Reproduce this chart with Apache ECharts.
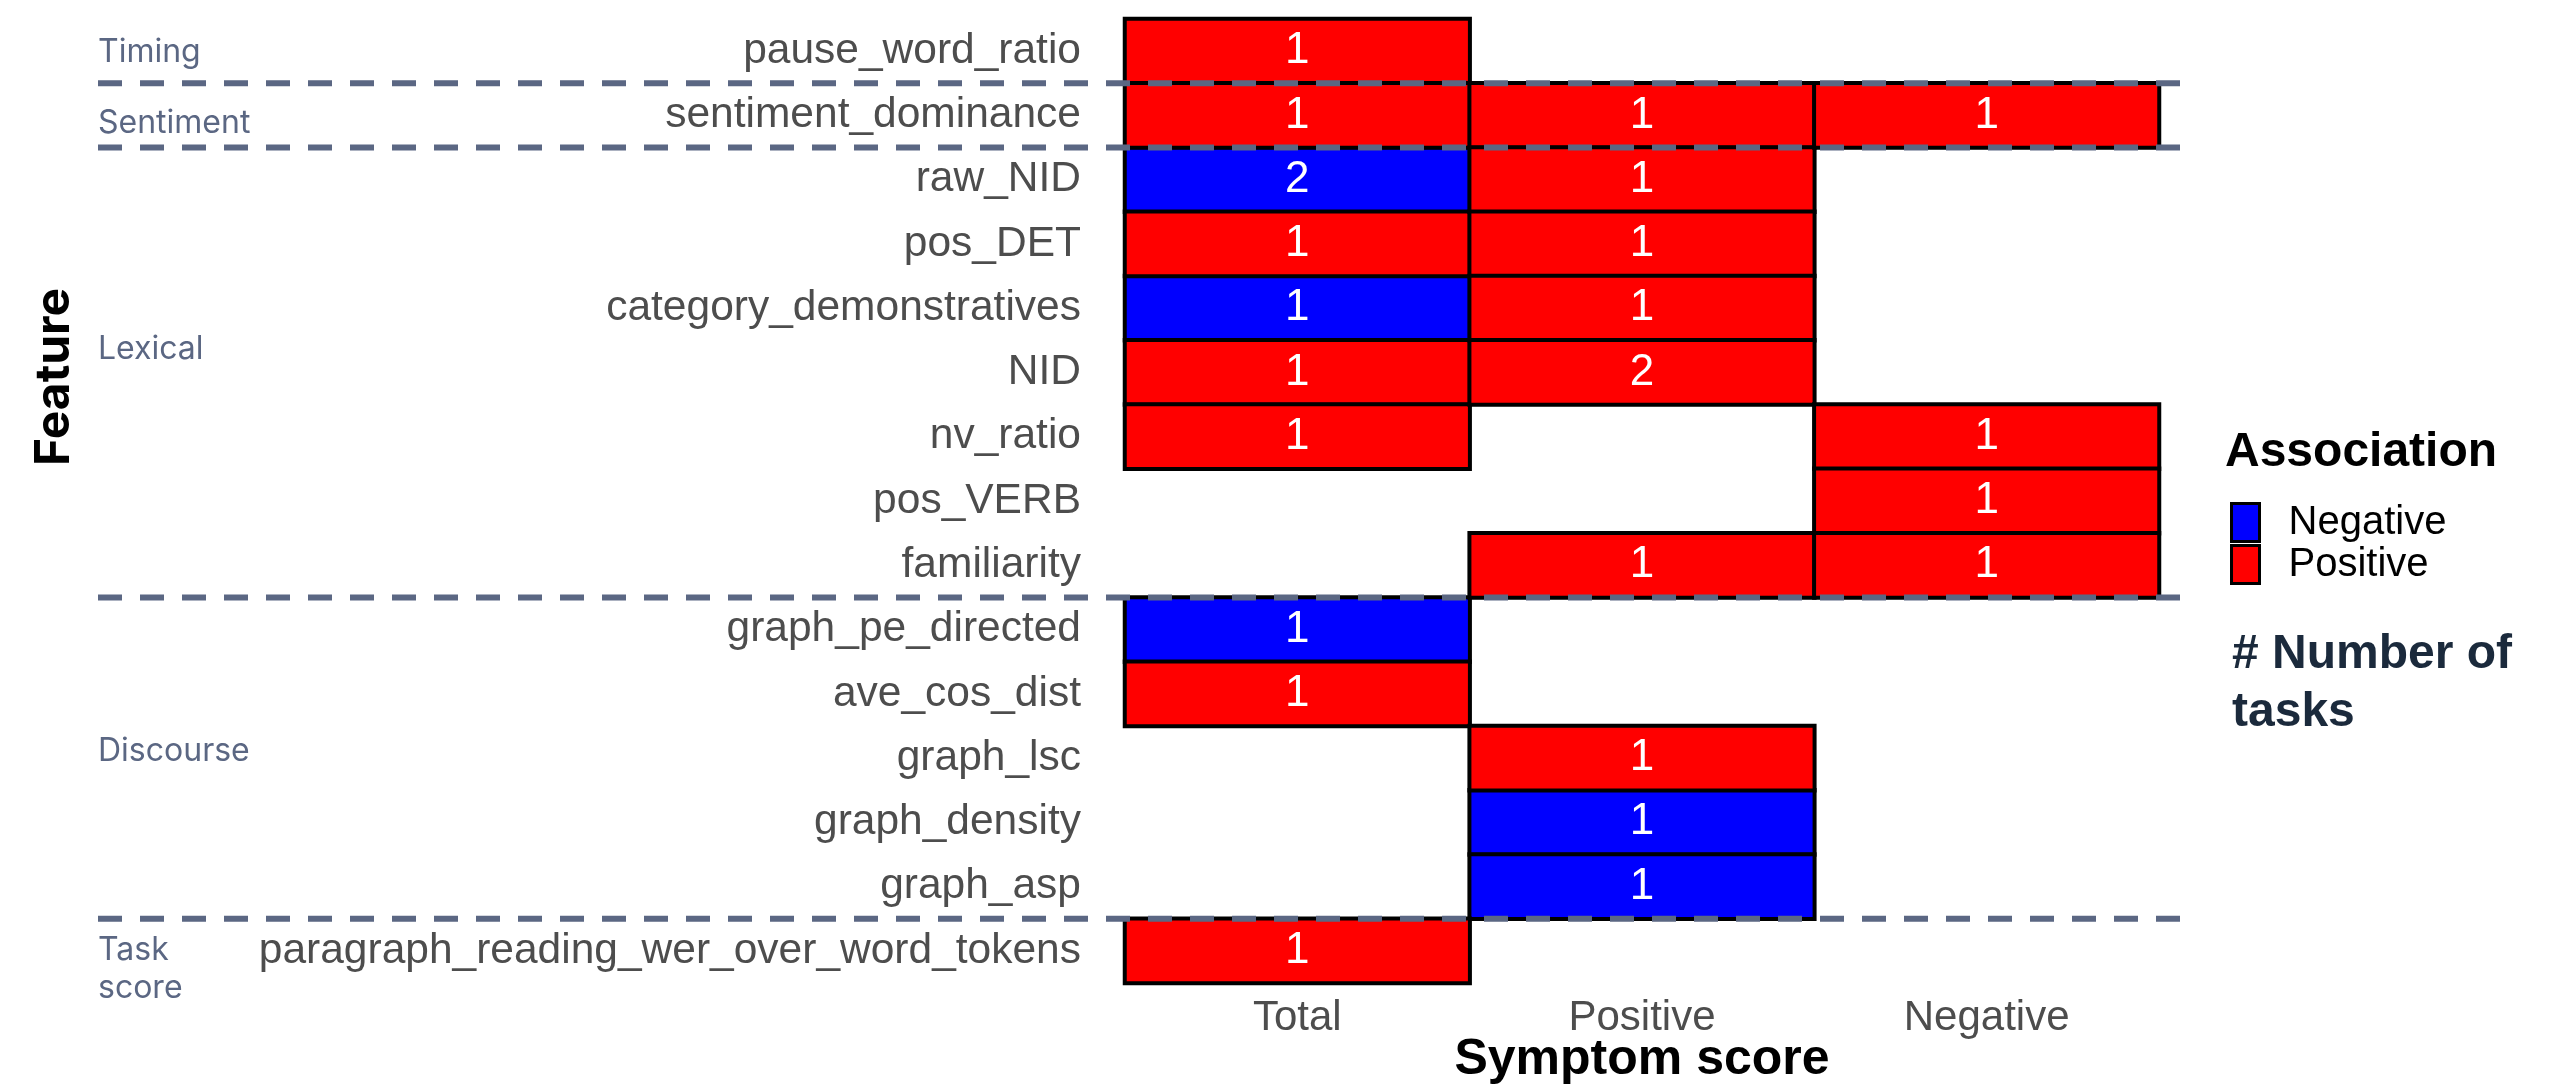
<!DOCTYPE html>
<html>
<head>
<meta charset="utf-8">
<script src="https://cdn.jsdelivr.net/npm/echarts@6/dist/echarts.min.js"></script>
<style>
  html, body { margin: 0; padding: 0; background: #fff; }
  #main { width: 2566px; height: 1091px; }
</style>
</head>
<body>
<div id="main"></div>
<script>
var myChart = echarts.init(document.getElementById('main'));

// features, top to bottom
var features = [
    'pause_word_ratio', 'sentiment_dominance', 'raw_NID', 'pos_DET',
    'category_demonstratives', 'NID', 'nv_ratio', 'pos_VERB', 'familiarity',
    'graph_pe_directed', 'ave_cos_dist', 'graph_lsc', 'graph_density',
    'graph_asp', 'paragraph_reading_wer_over_word_tokens'
];
var scoreTypes = ['Total', 'Positive', 'Negative'];

// number of tasks per feature (0 = no cell)
var totalCount    = [1, 1, 2, 1, 1, 1, 1, 0, 0, 1, 1, 0, 0, 0, 1];
var positiveCount = [0, 1, 1, 1, 1, 2, 0, 0, 1, 0, 0, 1, 1, 1, 0];
var negativeCount = [0, 1, 0, 0, 0, 0, 1, 1, 1, 0, 0, 0, 0, 0, 0];

// association sign: 'N' negative, 'P' positive
var totalSign    = ['P', 'P', 'N', 'P', 'N', 'P', 'P', '', '', 'N', 'P', '', '', '', 'P'];
var positiveSign = ['', 'P', 'P', 'P', 'P', 'P', '', '', 'P', '', '', 'P', 'N', 'N', ''];
var negativeSign = ['', 'P', '', '', '', '', 'P', 'P', 'P', '', '', '', '', '', ''];

// feature groups, in order, with number of rows each
var groupNames = ['Timing', 'Sentiment', 'Lexical', 'Discourse', 'Task\nscore'];
var groupSizes = [1, 1, 7, 5, 1];
// small vertical nudges of the group labels (px)
var groupLabelShift = [1, 8, -23, -7, 19];

var counts = [totalCount, positiveCount, negativeCount];
var signs = [totalSign, positiveSign, negativeSign];
var negData = [], posData = [];
for (var c = 0; c < scoreTypes.length; c++) {
    for (var r = 0; r < features.length; r++) {
        if (counts[c][r] > 0) {
            var item = [c, r, counts[c][r]];
            if (signs[c][r] === 'N') negData.push(item); else posData.push(item);
        }
    }
}

var cellLabel = {
    show: true,
    formatter: function (p) { return p.value[2]; },
    color: '#fff',
    fontSize: 44,
    fontFamily: 'Liberation Sans'
};

option = {
    backgroundColor: '#fff',
    animation: false,
    grid: { left: 1125, right: 407, top: 19, bottom: 108, outerBoundsMode: 'none', containLabel: false },
    legend: {
        orient: 'vertical',
        left: 2225,
        top: 497,
        icon: 'rect',
        itemWidth: 28,
        itemHeight: 38,
        itemGap: 1,
        itemStyle: { borderColor: '#000', borderWidth: 3 },
        textStyle: {
            fontSize: 40,
            lineHeight: 40,
            color: '#000',
            fontFamily: 'Liberation Sans',
            padding: [0, 0, 0, 24]
        },
        data: ['Negative', 'Positive']
    },
    xAxis: {
        type: 'category',
        data: scoreTypes,
        axisLine: { show: false },
        axisTick: { show: false },
        splitLine: { show: false },
        axisLabel: {
            margin: 14,
            fontSize: 42,
            color: '#4d4d4d',
            fontFamily: 'Liberation Sans'
        },
        name: 'Symptom score',
        nameLocation: 'middle',
        nameGap: 52,
        nameMoveOverlap: false,
        nameTextStyle: {
            fontSize: 50,
            fontWeight: 'bold',
            color: '#000',
            fontFamily: 'Liberation Sans'
        }
    },
    yAxis: {
        type: 'category',
        data: features,
        inverse: true,
        axisLine: { show: false },
        axisTick: { show: false },
        splitLine: { show: false },
        axisLabel: {
            margin: 44,
            fontSize: 42.5,
            color: '#4d4d4d',
            fontFamily: 'Liberation Sans'
        }
    },
    series: [{
        name: 'Negative',
        type: 'heatmap',
        data: negData,
        itemStyle: { color: '#0000ff', borderColor: '#000', borderWidth: 4 },
        label: cellLabel,
        emphasis: { disabled: true }
    }, {
        name: 'Positive',
        type: 'heatmap',
        data: posData,
        itemStyle: { color: '#ff0000', borderColor: '#000', borderWidth: 4 },
        label: cellLabel,
        emphasis: { disabled: true }
    }]
};

myChart.setOption(option);

// separators and group labels, placed from the axis scale
var y0 = myChart.convertToPixel({ yAxisIndex: 0 }, 0);
var band = myChart.convertToPixel({ yAxisIndex: 0 }, 1) - y0;
var top0 = y0 - band / 2;
var xb0 = myChart.convertToPixel({ xAxisIndex: 0 }, 0);
var xband = myChart.convertToPixel({ xAxisIndex: 0 }, 1) - xb0;
var gridRight = myChart.convertToPixel({ xAxisIndex: 0 }, scoreTypes.length - 1) + xband / 2;

var graphics = [];
var start = 0;
for (var g = 0; g < groupNames.length; g++) {
    var end = start + groupSizes[g];
    graphics.push({
        type: 'text',
        left: 98,
        top: top0 + (start + end) / 2 * band + groupLabelShift[g] - (groupNames[g].indexOf('\n') >= 0 ? 38 : 19),
        z: 100,
        style: {
            text: groupNames[g],
            fontSize: 32,
            lineHeight: 38,
            fontFamily: 'Inter',
            fill: '#5b6783'
        }
    });
    if (g < groupNames.length - 1) {
        var yb = top0 + end * band;
        graphics.push({
            type: 'line',
            z: 100,
            shape: { x1: 98, y1: yb, x2: gridRight + 22, y2: yb },
            style: { stroke: '#5b6783', lineWidth: 6, lineDash: [24, 18] }
        });
    }
    start = end;
}

graphics.push({
    type: 'text',
    x: 55,
    y: 377,
    rotation: Math.PI / 2,
    style: {
        text: 'Feature',
        fontSize: 48,
        fontWeight: 'bold',
        fontFamily: 'Inter',
        fill: '#000',
        align: 'center',
        verticalAlign: 'middle'
    }
});
graphics.push({
    type: 'text',
    left: 2225,
    top: 429,
    style: {
        text: 'Association',
        fontSize: 48,
        fontWeight: 'bold',
        fontFamily: 'Liberation Sans',
        fill: '#000'
    }
});
graphics.push({
    type: 'text',
    left: 2232,
    top: 626,
    style: {
        text: '# Number of\ntasks',
        fontSize: 48,
        lineHeight: 58,
        fontWeight: 'bold',
        fontFamily: 'Liberation Sans',
        fill: '#1b2a3c'
    }
});

myChart.setOption({ graphic: graphics });
</script>
</body>
</html>
